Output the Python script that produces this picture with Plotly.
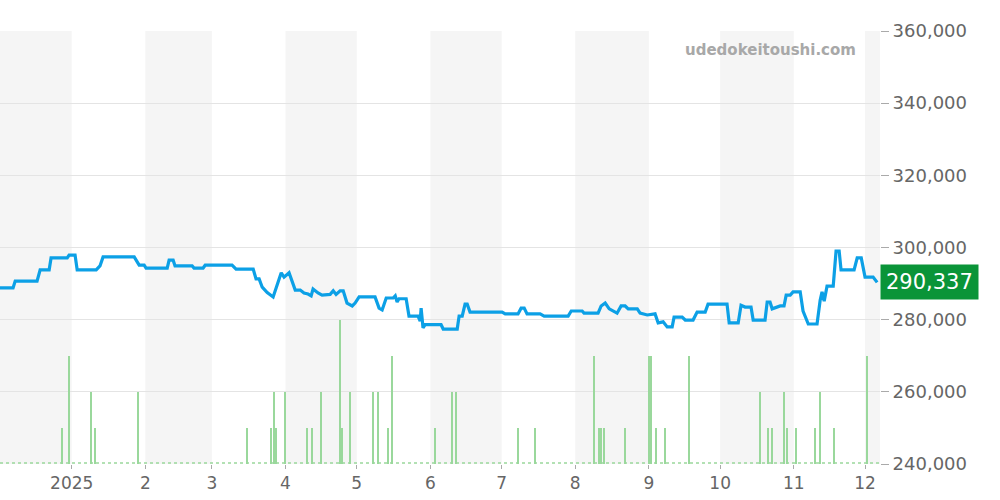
import pandas as pd
import plotly.graph_objects as go

BASE = pd.Timestamp("2024-12-01")

# price line: days since 2024-12-01, price in yen
price_days = [0.8, 6.3, 7.2, 16.4, 17.7, 21.5, 22.3, 29.1, 29.9, 32.4, 33.3, 41.3, 42.9, 44.2,
              57.3, 59.4, 61.5, 62.3, 71.2, 72.0, 73.7, 74.5, 81.7, 82.5, 86.3, 87.2, 98.5,
              100.2, 107.4, 108.6, 109.9, 111.2, 113.3, 115.8, 119.2, 120.4, 122.5, 125.1,
              127.2, 128.8, 130.5, 131.8, 132.6, 134.7, 136.4, 139.8, 141.1, 142.3, 144.0,
              145.3, 146.9, 149.1, 150.3, 152.0, 158.7, 160.4, 161.7, 163.4, 166.3, 167.2,
              168.0, 168.8, 171.8, 173.0, 176.8, 177.7, 178.1, 178.9, 179.8, 186.5, 187.4,
              193.3, 194.1, 195.4, 196.6, 197.5, 198.7, 212.2, 213.5, 218.9, 220.2, 221.5,
              222.7, 228.2, 229.9, 240.0, 241.3, 245.9, 246.7, 252.6, 253.9, 255.6, 257.3,
              258.9, 260.6, 262.3, 264.0, 265.3, 269.1, 270.3, 273.3, 276.6, 277.9, 280.0,
              281.7, 283.8, 284.6, 288.0, 289.3, 292.6, 294.3, 297.7, 298.9, 306.9, 307.8,
              311.6, 312.8, 314.5, 317.0, 317.9, 322.9, 323.8, 325.0, 325.9, 328.0, 329.3,
              330.9, 331.8, 333.5, 334.7, 337.7, 338.9, 341.1, 344.8, 346.1, 346.9, 347.8,
              349.0, 351.6, 352.8, 354.1, 354.9, 360.4, 361.7, 363.4, 365.0, 368.4, 370.1]
price_vals = [288800, 288800, 290700, 290700, 293800, 293800, 297100, 297100, 297900, 297900,
              293800, 293800, 294900, 297400, 297400, 295100, 295100, 294300, 294300, 296500,
              296500, 294900, 294900, 294300, 294300, 295100, 295100, 294000, 294000, 291300,
              291300, 289000, 287500, 286300, 293000, 291800, 293000, 288200, 288200, 287400,
              287100, 286600, 288500, 287400, 286800, 287000, 288000, 287000, 288000, 288000,
              284600, 283800, 284600, 286300, 286300, 283200, 282700, 286000, 286000, 286600,
              284900, 285800, 285800, 281000, 281000, 279600, 283200, 277700, 278600, 278600,
              277400, 277400, 281000, 281000, 284300, 284300, 282100, 282100, 281600, 281600,
              283200, 283200, 281600, 281600, 281000, 281000, 282400, 282400, 281800, 281800,
              283800, 284600, 283000, 282400, 281800, 283800, 283800, 283000, 283000, 281800,
              281300, 281600, 279100, 279400, 278000, 278000, 280700, 280700, 279900, 279900,
              282100, 282100, 284300, 284300, 279100, 279100, 284000, 283500, 283500, 279900,
              279900, 284900, 284900, 283000, 283500, 283800, 283800, 286800, 286800, 287700,
              287700, 282400, 278800, 278800, 285400, 287700, 285100, 289300, 289300, 299000,
              299000, 293800, 293800, 297100, 297100, 291800, 291800, 290337]

# trade volume per day
vol_dates = ["2024-12-28", "2024-12-31", "2025-01-09", "2025-01-11", "2025-01-29", "2025-03-16",
             "2025-03-26", "2025-03-27", "2025-03-28", "2025-04-01", "2025-04-10", "2025-04-12",
             "2025-04-16", "2025-04-24", "2025-04-25", "2025-04-28", "2025-05-08", "2025-05-10",
             "2025-05-14", "2025-05-16", "2025-06-03", "2025-06-10", "2025-06-12", "2025-07-08",
             "2025-07-15", "2025-08-09", "2025-08-11", "2025-08-12", "2025-08-13", "2025-08-22",
             "2025-09-01", "2025-09-02", "2025-09-04", "2025-09-08", "2025-09-18", "2025-10-18",
             "2025-10-21", "2025-10-23", "2025-10-28", "2025-10-29", "2025-11-02", "2025-11-10",
             "2025-11-12", "2025-11-18", "2025-12-02"]
vol_counts = [1, 3, 2, 1, 2, 1, 1, 2, 1, 2, 1, 1, 2, 4, 1, 2, 2, 2, 1, 3, 1, 2, 2, 1, 1,
              3, 1, 1, 1, 1, 3, 3, 1, 1, 3, 2, 1, 1, 2, 1, 1, 1, 2, 1, 3]

price_x = [BASE + pd.Timedelta(days=d) for d in price_days]
x_start = BASE + pd.Timedelta(days=0.8)
x_end = BASE + pd.Timedelta(days=371.3)

fig = go.Figure()
fig.add_trace(go.Scatter(x=[x_start, x_end], y=[0.03, 0.03], yaxis="y2", mode="lines",
                         line=dict(color="#9ad89c", width=1.5, dash="dot"), hoverinfo="skip"))
fig.add_trace(go.Bar(x=pd.to_datetime(vol_dates), y=vol_counts, yaxis="y2",
                     marker=dict(color="#9ad89c", line_width=0), width=0.45 * 86400000))
fig.add_trace(go.Scatter(x=price_x, y=price_vals, mode="lines",
                         line=dict(color="#0ca0e6", width=3.2)))

shapes = []
for m in ["2024-12", "2025-02", "2025-04", "2025-06", "2025-08", "2025-10", "2025-12"]:
    s = pd.Timestamp(m + "-01")
    e = s + pd.offsets.MonthBegin(1)
    shapes.append(dict(type="rect", xref="x", yref="paper", x0=max(s, x_start), x1=min(e, x_end),
                       y0=0, y1=1, fillcolor="#f5f5f5", line_width=0, layer="below"))

ticks = pd.date_range("2025-01-01", "2025-12-01", freq="MS")
tick_text = ["2025"] + [str(t.month) for t in ticks[1:]]

fig.update_layout(
    width=1000, height=500, showlegend=False, bargap=0,
    margin=dict(l=0, r=120, t=31, b=36, autoexpand=False),
    plot_bgcolor="white", paper_bgcolor="white",
    font=dict(family="DejaVu Sans", color="#666666"),
    shapes=shapes,
    xaxis=dict(range=[x_start, x_end], tickvals=ticks, ticktext=tick_text, showgrid=False,
               ticks="outside", ticklen=4, tickcolor="#aaaaaa", tickfont=dict(size=17),
               showline=False, zeroline=False),
    yaxis=dict(range=[240000, 360000], side="right", dtick=20000, tickformat=",",
               gridcolor="#e4e4e4", ticks="outside", ticklen=8, tickcolor="#aaaaaa",
               tickfont=dict(size=18), zeroline=False),
    yaxis2=dict(range=[0, 12], overlaying="y", visible=False),
    annotations=[
        dict(x=0.975, y=0.955, xref="paper", yref="paper", xanchor="right", yanchor="middle",
             text="<b>udedokeitoushi.com</b>", showarrow=False,
             font=dict(size=15, color="#a8a8a8")),
        dict(x=1.0, y=290337, xref="paper", yref="y", xanchor="left", yanchor="middle",
             text="290,337", showarrow=False, bgcolor="#0a9438", borderpad=5,
             font=dict(size=21, color="white")),
    ],
)
fig.write_html("out.html", config={"displayModeBar": False},
               post_script="document.body.style.margin='0';")
